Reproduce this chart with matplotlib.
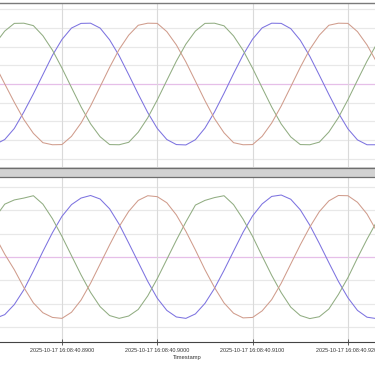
import numpy as np
import matplotlib
matplotlib.use("Agg")
import matplotlib.pyplot as plt
from matplotlib.ticker import FixedLocator, FuncFormatter
import matplotlib.patches as mpatches

# samples every 1 ms starting at 16:08:40.8830
t_start = 40.883
t_step = 0.001

# upper plot (voltage-like, flattened tops)
top_blue = [-323, -297, -238, -150, -53, 50, 153, 238, 299, 324, 325, 299, 236, 151, 50,
            -54, -153, -238, -297, -324, -326, -298, -236, -150, -50, 55, 155, 240, 300, 325,
            324, 296, 234, 148, 47, -56, -155, -240, -299, -325, -325]
top_green = [216, 283, 324, 325, 312, 258, 181, 85, -19, -122, -213, -282, -324, -325, -312,
             -258, -181, -85, 19, 122, 213, 283, 324, 325, 311, 257, 180, 84, -20, -123,
             -214, -283, -324, -325, -311, -257, -180, -84, 20, 122, 212]
top_red = [100, 0, -98, -190, -264, -314, -325, -324, -280, -209, -118, -15, 89, 185, 261,
           314, 325, 324, 280, 209, 118, 15, -89, -185, -261, -314, -325, -324, -280, -209,
           -118, -15, 89, 185, 261, 314, 325, 324, 280, 209, 118]

# lower plot (current-like, a bit distorted)
bot_blue = [-262, -246, -203, -140, -60, 24, 104, 174, 224, 252, 263, 248, 206, 140, 60,
            -22, -104, -176, -228, -256, -262, -243, -198, -134, -57, 25, 106, 176, 227, 259,
            265, 247, 202, 136, 58, -24, -104, -174, -228, -257, -263]
bot_green = [170, 226, 244, 252, 262, 226, 164, 88, 6, -76, -151, -212, -250, -262, -252,
             -224, -166, -92, -10, 72, 150, 222, 242, 254, 262, 224, 162, 88, 4, -78,
             -152, -214, -250, -263, -255, -222, -160, -88, -4, 76, 150]
bot_red = [88, 12, -54, -130, -196, -238, -258, -262, -236, -184, -112, -30, 52, 130, 195,
           242, 262, 258, 232, 180, 110, 30, -54, -130, -196, -240, -260, -258, -230, -182,
           -112, -30, 52, 128, 194, 240, 263, 262, 234, 184, 112]

tick_secs = [40.89, 40.90, 40.91, 40.92]
date_prefix = "2025-10-17 16:08:"

blue = "#7d73e0"
green = "#91ad82"
red = "#d09c8c"
zero_c = "#e6bfe8"
grid_c = "#e8e8e8"
vgrid_c = "#dadada"

t = t_start + np.arange(len(top_blue)) * t_step
xlim = (40.88350, 40.92284)

fig = plt.figure(figsize=(3.75, 3.66), dpi=100)
H = 366.0

ax1 = fig.add_axes([0, (H - 167) / H, 1, 164 / H])
ax2 = fig.add_axes([0, (H - 342) / H, 1, 165 / H])

for ax, series, ylim, ygrid in [
    (ax1, (top_blue, top_green, top_red), (-444, 433), [-400, -300, -200, -100, 100, 200, 300, 400]),
    (ax2, (bot_blue, bot_green, bot_red), (-363, 342), [-300, -200, -100, 100, 200, 300]),
]:
    for y in ygrid:
        ax.axhline(y, color=grid_c, lw=0.9, zorder=0)
    ax.axhline(0, color=zero_c, lw=0.9, zorder=0)
    for x in tick_secs:
        ax.axvline(x, color=vgrid_c, lw=0.8, zorder=0)
    for vals, c in zip(series, (blue, green, red)):
        ax.plot(t, vals, color=c, lw=0.75, zorder=2)
    ax.set_xlim(*xlim)
    ax.set_ylim(*ylim)
    ax.set_yticks([])
    for s in ("left", "right"):
        ax.spines[s].set_visible(False)

ax1.set_xticks([])
ax1.spines["top"].set_color("#7a7a7a")
ax1.spines["top"].set_linewidth(1.0)
ax1.spines["bottom"].set_visible(False)

ax2.spines["top"].set_visible(False)
ax2.spines["bottom"].set_color("#444444")
ax2.spines["bottom"].set_linewidth(0.8)
ax2.xaxis.set_major_locator(FixedLocator(tick_secs))
ax2.xaxis.set_major_formatter(FuncFormatter(lambda v, p: f"{date_prefix}{v:07.4f}"))
ax2.tick_params(axis="x", direction="inout", length=5, width=0.6, color="#444444",
                labelsize=3.9, labelcolor="#333333", pad=1.5)
for lab in ax2.get_xticklabels():
    lab.set_family("Liberation Sans")
ax2.set_xlabel("Timestamp", fontsize=4.2, color="#333333", labelpad=1.5,
               family="Liberation Sans")

# splitter bar between the two plots
fig.patches.append(mpatches.Rectangle((0, (H - 177) / H), 1, 10 / H, transform=fig.transFigure,
                                      facecolor="#d2d2d2", edgecolor="none", zorder=5))
for yy in (167.5, 176.5):
    fig.add_artist(plt.Line2D([0, 1], [(H - yy) / H] * 2, transform=fig.transFigure,
                              color="#6e6e6e", lw=0.9, zorder=6))

fig.savefig("out.png", dpi=100)
